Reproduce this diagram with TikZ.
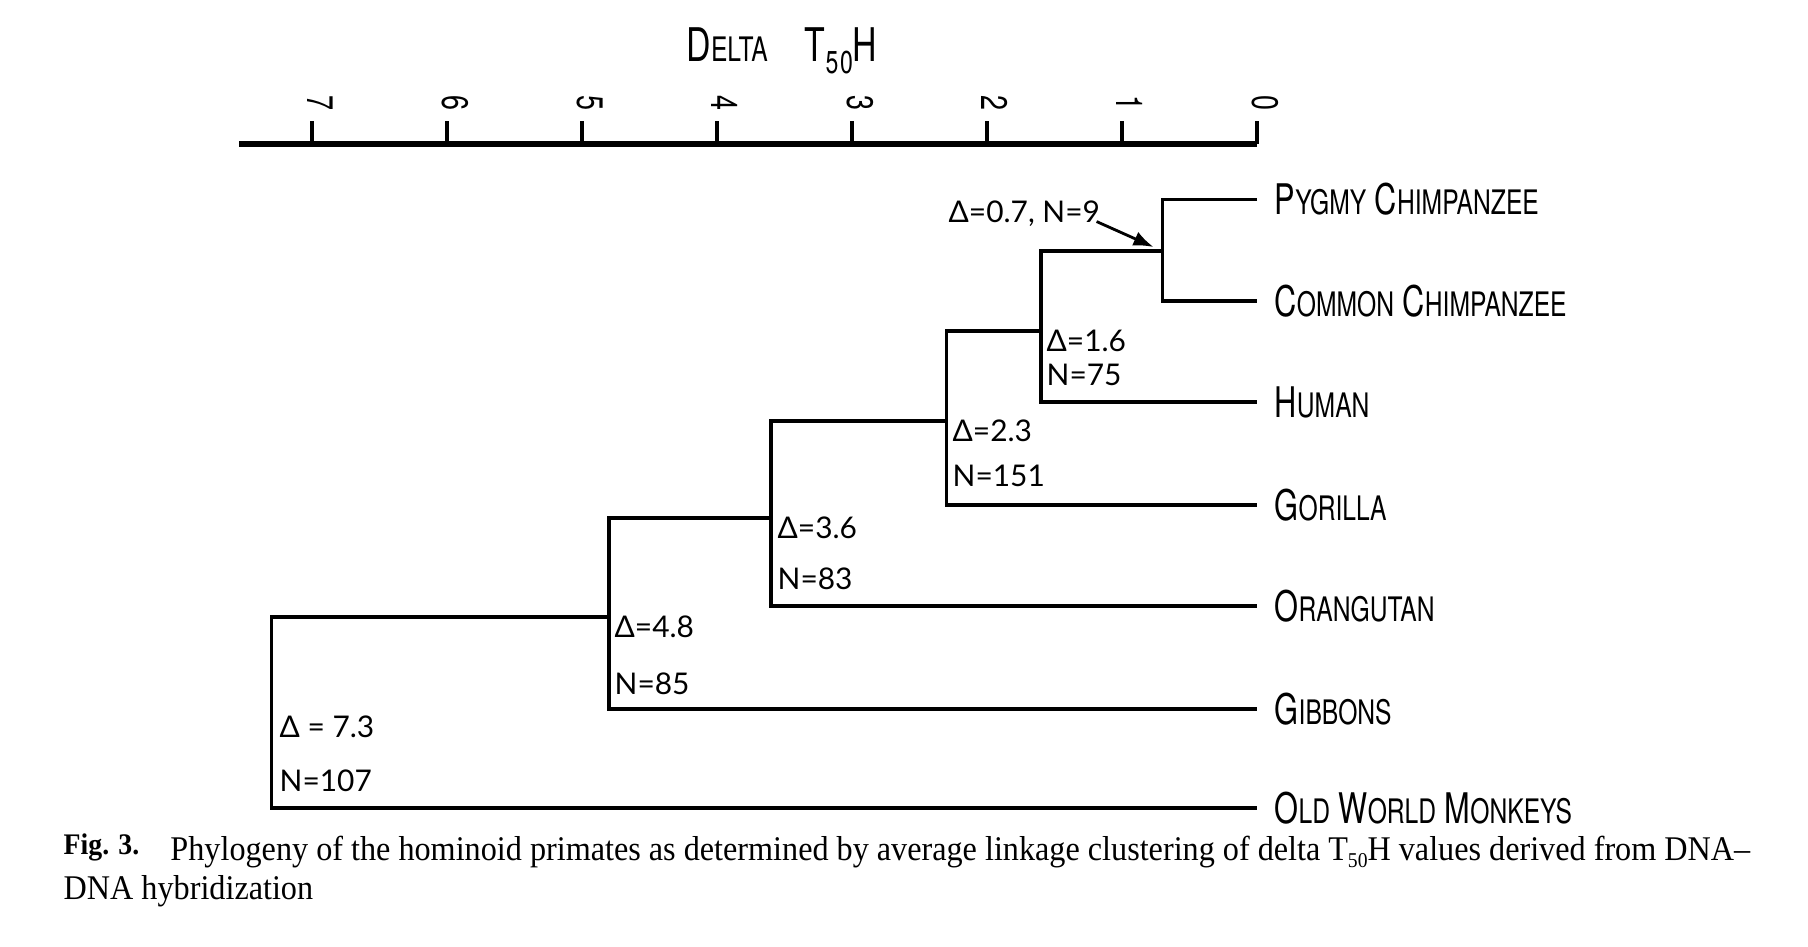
\documentclass[tikz,border=0pt]{standalone}
\usepackage{fontspec}
\setmainfont{Liberation Serif}
\newfontfamily\capfont[FakeStretch=0.93]{Liberation Serif}
\newfontfamily\letterfont[FakeStretch=0.73]{TeX Gyre Heros}
\newfontfamily\valfont{Lato}
\usetikzlibrary{arrows.meta,positioning}
\newcommand{\lsc}[2]{#1{\fontsize{9.6}{10}\selectfont #2}}

\begin{document}
\begin{tikzpicture}[
  branch/.style={line width=1.1pt},
  axisline/.style={line width=1.7pt},
  leaf/.style={font=\letterfont\fontsize{12}{14}\selectfont, inner sep=0.07cm, anchor=west},
  val/.style={font=\valfont\fontsize{8.5}{10}\selectfont, inner sep=0pt, anchor=west},
  ticklab/.style={font=\letterfont\fontsize{10.5}{12}\selectfont, rotate=-90, inner sep=0pt},
  arr/.style={-{Latex[length=2mm,width=1.5mm]}, line width=0.8pt}
]
\useasboundingbox (0,0) rectangle (18.08,9.46);

% scale
\node[font=\letterfont\fontsize{13.2}{15}\selectfont, inner sep=0pt] (title) at (7.82,8.95)
  {\lsc{D}{ELTA}\hspace{0.8em}T\raisebox{-0.5ex}{\fontsize{9}{9}\selectfont 5\kern0.5pt0}H};
\draw[axisline] (2.39,8.02) -- (12.57,8.02);
\foreach \k in {0,...,7}{
  \coordinate (tk\k) at (12.57-1.35*\k,8.02);
  \draw[line width=1pt] (tk\k) -- ++(0,0.23);
  \node[ticklab] (tl\k) at ([xshift=0.8mm,yshift=4.1mm]tk\k) {\k};
}

% tips and names
\coordinate (tpy) at (12.57,7.465);
\coordinate (tco) at (12.57,6.45);
\coordinate (thu) at (12.57,5.44);
\coordinate (tgo) at (12.57,4.41);
\coordinate (tor) at (12.57,3.40);
\coordinate (tgi) at (12.57,2.37);
\coordinate (tow) at (12.57,1.38);
\node[leaf, right=1mm of tpy] (pygmy) {\lsc{P}{YGMY} \lsc{C}{HIMPANZEE}};
\node[leaf, right=1mm of tco] (common) {\lsc{C}{OMMON} \lsc{C}{HIMPANZEE}};
\node[leaf, right=1mm of thu] (human) {\lsc{H}{UMAN}};
\node[leaf, right=1mm of tgo] (gorilla) {\lsc{G}{ORILLA}};
\node[leaf, right=1mm of tor] (orang) {\lsc{O}{RANGUTAN}};
\node[leaf, right=1mm of tgi] (gibbons) {\lsc{G}{IBBONS}};
\node[leaf, right=1mm of tow] (owm) {\lsc{O}{LD} \lsc{W}{ORLD} \lsc{M}{ONKEYS}};

% branch points
\coordinate (n07) at (11.625,6.95);
\coordinate (n16) at (10.41,6.15);
\coordinate (n23) at (9.465,5.25);
\coordinate (n36) at (7.71,4.28);
\coordinate (n48) at (6.09,3.29);
\coordinate (n73) at (2.715,3.29);

\draw[branch] (tpy) -| (n07) |- (tco);
\draw[branch] (n07) -| (n16) |- (thu);
\draw[branch] (n16) -| (n23) |- (tgo);
\draw[branch] (n23) -| (n36) |- (tor);
\draw[branch] (n36) -| (n48) |- (tgi);
\draw[branch] (n48) -- (n73) |- (tow);

% values
\node[val] (l07) at (9.48,7.32) {Δ=0.7, N=9};
\draw[arr] ([xshift=-0.4mm,yshift=0.6mm]l07.south east) -- ([xshift=-0.9mm,yshift=0.4mm]n07);
\node[val] (d16) at (10.46,6.05) {Δ=1.6};
\node[val] (c16) at (10.46,5.71) {N=75};
\node[val] (d23) at (9.52,5.15) {Δ=2.3};
\node[val] (c23) at (9.52,4.70) {N=151};
\node[val] (d36) at (7.77,4.18) {Δ=3.6};
\node[val] (c36) at (7.77,3.67) {N=83};
\node[val] (d48) at (6.14,3.19) {Δ=4.8};
\node[val] (c48) at (6.14,2.62) {N=85};
\node[val] (d73) at (2.79,2.19) {Δ = 7.3};
\node[val] (c73) at (2.79,1.65) {N=107};

% caption
\node[anchor=north west, align=left, inner sep=0pt, font=\capfont\fontsize{9.85}{11}\selectfont] (cap) at (0.63,1.13)
  {\raisebox{0.4ex}{\fontsize{8.5}{9}\selectfont\textbf{Fig. 3.}}\hspace{0.9em}Phylogeny of the hominoid primates as determined by average linkage clustering of delta T\raisebox{-0.4ex}{\fontsize{6}{6}\selectfont 50}H values derived from DNA–\\
   DNA hybridization};
\end{tikzpicture}
\end{document}
